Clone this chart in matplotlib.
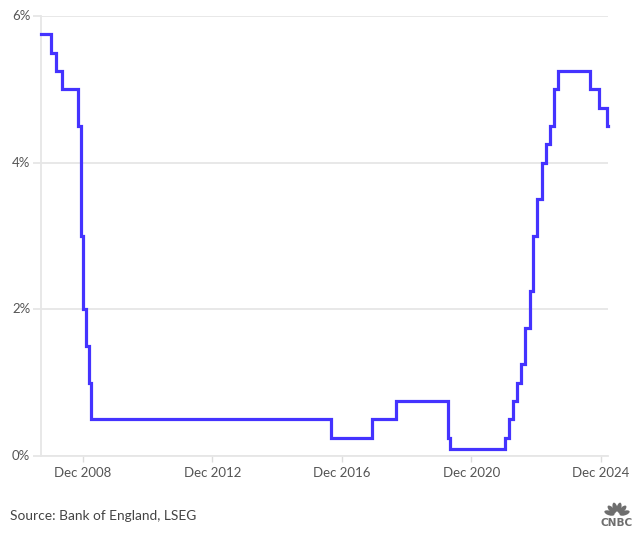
import matplotlib
matplotlib.use("Agg")
import matplotlib.pyplot as plt
from matplotlib.patches import Ellipse
import numpy as np
import pandas as pd

# Bank Rate changes (date of change, new rate %)
change_dates = ["2007-08-15", "2007-12-06", "2008-02-07", "2008-04-10", "2008-10-08",
                "2008-11-06", "2008-12-04", "2009-01-08", "2009-02-05", "2009-03-05",
                "2016-08-04", "2017-11-02", "2018-08-02", "2020-03-11", "2020-04-10",
                "2021-12-16", "2022-02-03", "2022-03-17", "2022-05-05", "2022-06-16",
                "2022-08-04", "2022-09-22", "2022-11-03", "2022-12-15", "2023-02-02",
                "2023-03-23", "2023-05-11", "2023-06-22", "2023-08-03", "2024-08-01",
                "2024-11-07", "2025-02-06", "2025-02-24"]
rates = [5.75, 5.5, 5.25, 5.0, 4.5,
         3.0, 2.0, 1.5, 1.0, 0.5,
         0.25, 0.5, 0.75, 0.25, 0.1,
         0.25, 0.5, 0.75, 1.0, 1.25,
         1.75, 2.25, 3.0, 3.5, 4.0,
         4.25, 4.5, 5.0, 5.25, 5.0,
         4.75, 4.5, 4.5]
x_tick_dates = ["2008-12-01", "2012-12-01", "2016-12-01", "2020-12-01", "2024-12-01"]
x_tick_labels = ["Dec 2008", "Dec 2012", "Dec 2016", "Dec 2020", "Dec 2024"]
y_ticks = [0, 2, 4, 6]
y_tick_labels = ["0%", "2%", "4%", "6%"]

FONT = ["Lato", "DejaVu Sans"]
plt.rcParams['font.family'] = FONT

W, H = 636, 538
fig = plt.figure(figsize=(W / 100, H / 100), dpi=100)
fig.patch.set_facecolor("white")

left, right, top, bottom = 40.7, 608.3, 16, 456
ax = fig.add_axes([left / W, 1 - bottom / H, (right - left) / W, (bottom - top) / H])

d = pd.to_datetime(change_dates)
ax.step(d, rates, where="post", color="#4433ff", lw=2.3, solid_joinstyle="miter",
        zorder=5, clip_on=False)

ax.set_xlim(d[0], d[-1])
ax.set_ylim(0, 6)

grid_c = "#e6e6e6"
ax.set_yticks(y_ticks)
ax.set_yticklabels(y_tick_labels)
ax.yaxis.grid(True, color=grid_c, lw=1.3)
ax.set_axisbelow(True)
ax.tick_params(axis="y", length=5.5, width=1.3, color=grid_c, pad=2,
               labelsize=9.5, labelcolor="#555555")
for lab in ax.get_yticklabels():
    lab.set_verticalalignment("center")

ax.set_xticks(pd.to_datetime(x_tick_dates))
ax.set_xticklabels(x_tick_labels)
ax.tick_params(axis="x", length=4, width=1, color="#dddddd", pad=4,
               labelsize=9.5, labelcolor="#555555")

for s in ["top", "right"]:
    ax.spines[s].set_visible(False)
ax.spines["left"].set_color(grid_c)
ax.spines["left"].set_linewidth(1.3)
ax.spines["bottom"].set_color(grid_c)
ax.spines["bottom"].set_linewidth(1.3)

fig.text(10 / W, 1 - 516 / H, "Source: Bank of England, LSEG", fontsize=9.9,
         color="#444444", va="center", ha="left")

# CNBC logo (approximation), coordinates in pixels inside a small axes
lx0, lx1, ly0, ly1 = 600, 634, 497, 530
lax = fig.add_axes([lx0 / W, 1 - ly1 / H, (lx1 - lx0) / W, (ly1 - ly0) / H])
lax.set_xlim(0, lx1 - lx0)
lax.set_ylim(0, ly1 - ly0)
lax.axis("off")
logo_c = "#6e6e6e"
cx, cy = 17, 14.5
for ang in np.linspace(162, 18, 6):
    a = np.deg2rad(ang)
    r = 8
    lax.add_patch(Ellipse((cx + r * np.cos(a), cy + r * np.sin(a)), 10.5, 4.6,
                          angle=ang, color=logo_c, lw=0))
lax.add_patch(Ellipse((cx, cy + 1.5), 3, 5, color="white", lw=0))
lax.text(17, 7.5, "CNBC", fontsize=7.6, fontweight="bold", color=logo_c,
         ha="center", va="center", family=["DejaVu Sans"])

fig.savefig("out.png", dpi=100, facecolor="white")
